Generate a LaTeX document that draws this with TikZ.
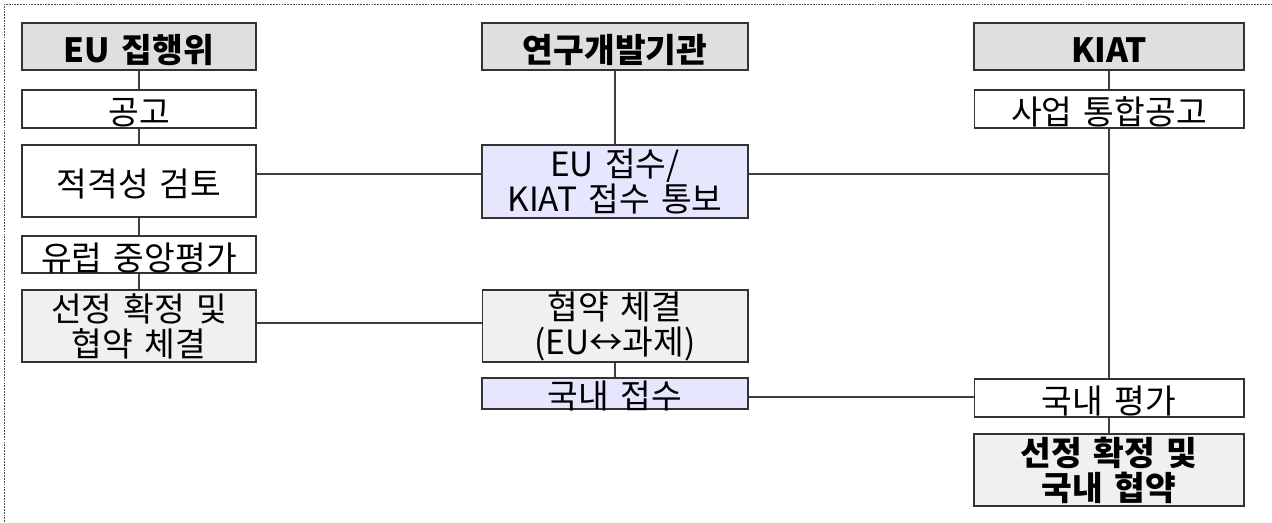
\documentclass[tikz,border=0pt]{standalone}
\usepackage{fontspec}
\setmainfont[WordSpace=1.5]{Noto Sans CJK KR}
\usepackage{tikz}
\usetikzlibrary{positioning, calc}
\definecolor{headgray}{HTML}{DFDFDF}
\definecolor{selgray}{HTML}{F0F0F0}
\definecolor{recvblue}{HTML}{E6E6FF}
\tikzset{
  box/.style={draw=black!80, rectangle, line width=0.6pt, inner sep=0pt, align=center, fill=white},
  oneline/.style={text height=18pt, text depth=0pt},
  head/.style={box, oneline, fill=headgray, line width=0.9pt, minimum height=0.94cm, font=\fontsize{19}{20}\selectfont\bfseries},
  step1/.style={box, oneline, minimum height=0.76cm},
  tall/.style={box, minimum height=1.44cm},
  sel/.style={tall, fill=selgray},
  recv/.style={box, fill=recvblue, line width=1.1pt},
  lcol/.style={minimum width=4.68cm},
  ccol/.style={minimum width=5.32cm},
  rcol/.style={minimum width=5.4cm},
  link/.style={draw=black!75, line width=0.6pt},
}

\begin{document}
\begin{tikzpicture}[x=0.02cm, y=-0.02cm, font=\fontsize{19}{20}\selectfont]
  \useasboundingbox (0,0) rectangle (1272,522);
  \draw[black!70, dash pattern=on 1pt off 0.6pt] (4,522) -- (4,4) -- (1272,4);

  % EU column
  \node[head, lcol] (eu) at (139,46.5) {EU 집행위};
  \node[step1, lcol] (notice) at (139,109) {공고};
  \node[tall, oneline, lcol] (elig) at (139,181) {적격성 검토};
  \node[step1, lcol, minimum height=0.74cm] (cent) at (139,254.5) {유럽 중앙평가};
  \node[sel, lcol] (euSel) at (139,326) {선정 확정 및\\협약 체결};

  % institute column
  \node[head, ccol] (inst) at (615,46.5) {연구개발기관};
  \node[recv, ccol, minimum height=1.46cm] (euRecv) at (615,181.5) {EU 접수/\\KIAT 접수 통보};
  \node[sel, ccol] (agree) at (615,326) {협약 체결\\(EU↔과제)};
  \node[recv, ccol, minimum height=0.58cm, text height=17.5pt, text depth=-1pt] (domRecv) at (615,393.5) {국내 접수};

  % KIAT column
  \node[head, rcol] (kiat) at (1109,46.5) {KIAT};
  \node[step1, rcol] (call) at (1109,109) {사업 통합공고};
  \node[step1, rcol] (domEval) at (1109,398) {국내 평가};
  \node[sel, rcol, line width=0.9pt, font=\fontsize{19}{20}\selectfont\bfseries] (final) at (1109,470) {선정 확정 및\\국내 협약};

  % vertical links
  \draw[link] (eu) -- (notice);
  \draw[link] (notice) -- (elig);
  \draw[link] (elig) -- (cent);
  \draw[link] (cent) -- (euSel);
  \draw[link] (inst) -- (euRecv);
  \draw[link] (agree) -- (domRecv);
  \draw[link] (kiat) -- (call);
  \draw[link] (call) -- (domEval);
  \draw[link] (domEval) -- (final);

  % horizontal links
  \draw[link] (elig.east |- 0,174) -- (euRecv.west |- 0,174);
  \draw[link] (euRecv.east |- 0,174) -- (call.south |- 0,174);
  \draw[link] (euSel.east |- 0,323) -- (agree.west |- 0,323);
  \draw[link] (domRecv.east |- 0,397) -- (domEval.west |- 0,397);
\end{tikzpicture}
\end{document}
